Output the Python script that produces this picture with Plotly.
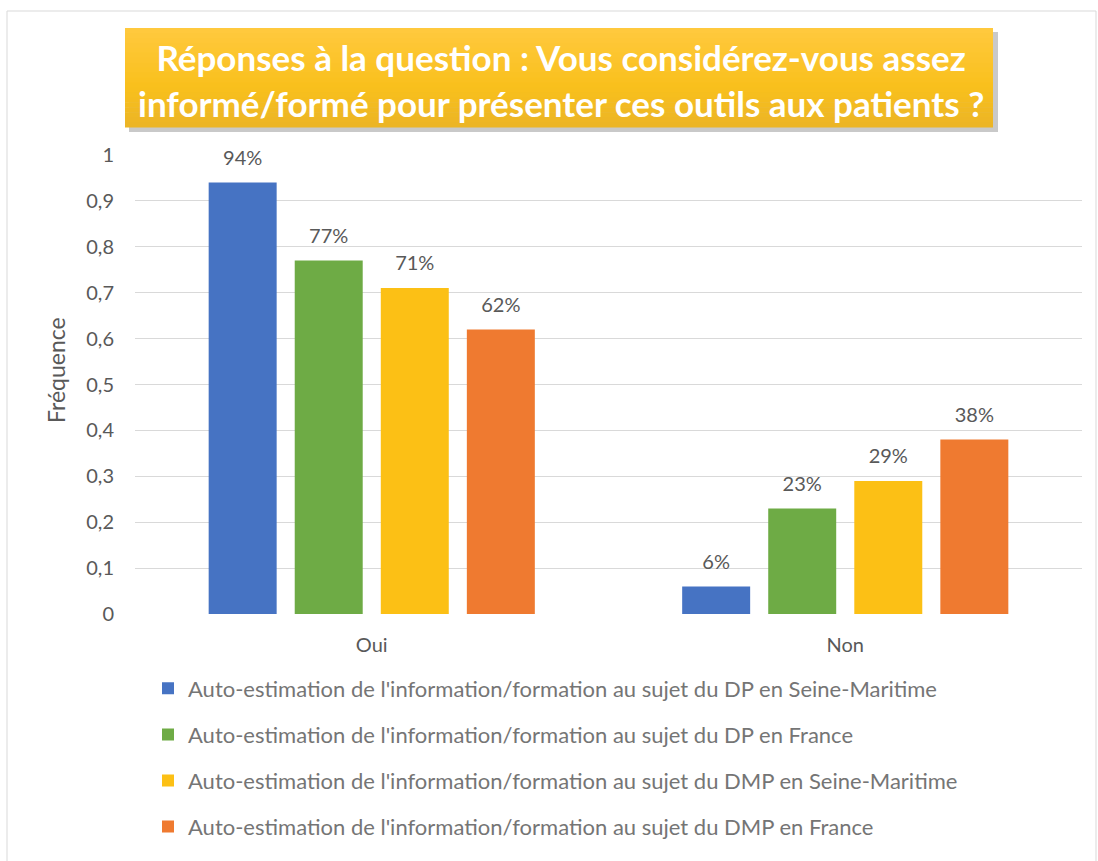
import plotly.graph_objects as go

categories = ["Oui", "Non"]
series_names = [
    "Auto-estimation de l'information/formation au sujet du DP en Seine-Maritime",
    "Auto-estimation de l'information/formation au sujet du DP en France",
    "Auto-estimation de l'information/formation au sujet du DMP en Seine-Maritime",
    "Auto-estimation de l'information/formation au sujet du DMP en France",
]
dp_seine = [0.94, 0.06]
dp_france = [0.77, 0.23]
dmp_seine = [0.71, 0.29]
dmp_france = [0.62, 0.38]
series_values = [dp_seine, dp_france, dmp_seine, dmp_france]
colors = ["#4673C3", "#6EAB45", "#FCC015", "#EF7A30"]

W, H = 1098, 861
L, R, T, B = 135, 16, 155, 247
pw, ph = W - L - R, H - T - B

def px(x):
    return (x - L) / pw

def py(y):
    return (H - B - y) / ph

font = "Lato, Open Sans, sans-serif"
BARGAP = 0.273
fig = go.Figure()
for i, (name, vals) in enumerate(zip(series_names, series_values)):
    fig.add_trace(go.Bar(
        x=categories, y=vals, name=name,
        marker=dict(color=colors[i], line=dict(width=0)),
        legendgroup=f"g{i}", hoverinfo="skip",
        offsetgroup=f"s{i}",
    ))
for i, (name, vals) in enumerate(zip(series_names, series_values)):
    fig.add_trace(go.Scatter(
        x=categories, y=vals, mode="markers+text",
        marker=dict(size=19, color="rgba(0,0,0,0)"),
        text=[f"{round(v * 100)}%" for v in vals], textposition="top center",
        textfont=dict(size=20, color="#595959", family=font),
        showlegend=False, hoverinfo="skip", cliponaxis=False,
        offsetgroup=f"s{i}",
    ))

def mix(c1, c2, t):
    a = [int(c1[k:k + 2], 16) for k in (1, 3, 5)]
    b = [int(c2[k:k + 2], 16) for k in (1, 3, 5)]
    return "#" + "".join(f"{round(x + (y - x) * t):02X}" for x, y in zip(a, b))

shapes = [
    dict(type="rect", xref="paper", yref="paper", x0=px(7), x1=px(1096), y0=py(11), y1=py(900),
         line=dict(color="#D9D9D9", width=1), fillcolor="rgba(0,0,0,0)", layer="below"),
    dict(type="rect", xref="paper", yref="paper", x0=px(129), x1=px(998), y0=py(32), y1=py(132),
         line=dict(width=0), fillcolor="rgba(120,120,120,0.4)", layer="above"),
]
top, bot, nb = 28, 127, 20
for k in range(nb):
    y0 = top + (bot - top) * k / nb
    y1 = top + (bot - top) * (k + 1) / nb + 0.6
    t = (k + 0.5) / nb
    col = mix("#FFC93E", "#F9C01C", t / 0.6) if t < 0.6 else mix("#F9C01C", "#EBB426", (t - 0.6) / 0.4)
    shapes.append(dict(type="rect", xref="paper", yref="paper", x0=px(125), x1=px(993),
                       y0=py(y1), y1=py(y0), line=dict(width=0), fillcolor=col, layer="above"))

fig.update_layout(
    width=W, height=H,
    margin=dict(l=L, r=R, t=T, b=B, autoexpand=False),
    paper_bgcolor="white", plot_bgcolor="white",
    separators=", ",
    barmode="group", bargap=BARGAP, bargroupgap=0.21,
    scattermode="group", scattergap=BARGAP,
    font=dict(family=font, color="#595959"),
    shapes=shapes,
    annotations=[
        dict(text="Réponses à la question : Vous considérez-vous assez<br>informé/formé pour présenter ces outils aux patients ?",
             xref="paper", yref="paper", x=px(561), y=py(80), xanchor="center", yanchor="middle",
             showarrow=False, font=dict(size=35, color="white", family="Lato, sans-serif", weight="bold"),
             align="center"),
        dict(text="Fréquence", textangle=-90, xref="paper", yref="paper", x=px(56), y=py(370),
             xanchor="center", yanchor="middle", showarrow=False,
             font=dict(size=23, color="#595959", family=font)),
    ],
    yaxis=dict(range=[0, 1], dtick=0.1, tick0=0, showline=False, zeroline=False,
               gridcolor="#D9D9D9", gridwidth=1,
               tickfont=dict(size=20, color="#595959", family=font),
               ticklabelstandoff=20),
    xaxis=dict(showline=False, tickfont=dict(size=20, color="#595959", family=font),
               ticklabelstandoff=17),
    legend=dict(orientation="v", x=px(148), y=py(667.5), xanchor="left", yanchor="top",
                font=dict(size=22, color="#757575", family=font), tracegroupgap=14.5,
                itemwidth=30, bgcolor="rgba(0,0,0,0)"),
    showlegend=True,
)
fig.write_html("out.html", config={"displayModeBar": False},
               post_script="document.body.style.margin='0';document.body.style.padding='0';")
